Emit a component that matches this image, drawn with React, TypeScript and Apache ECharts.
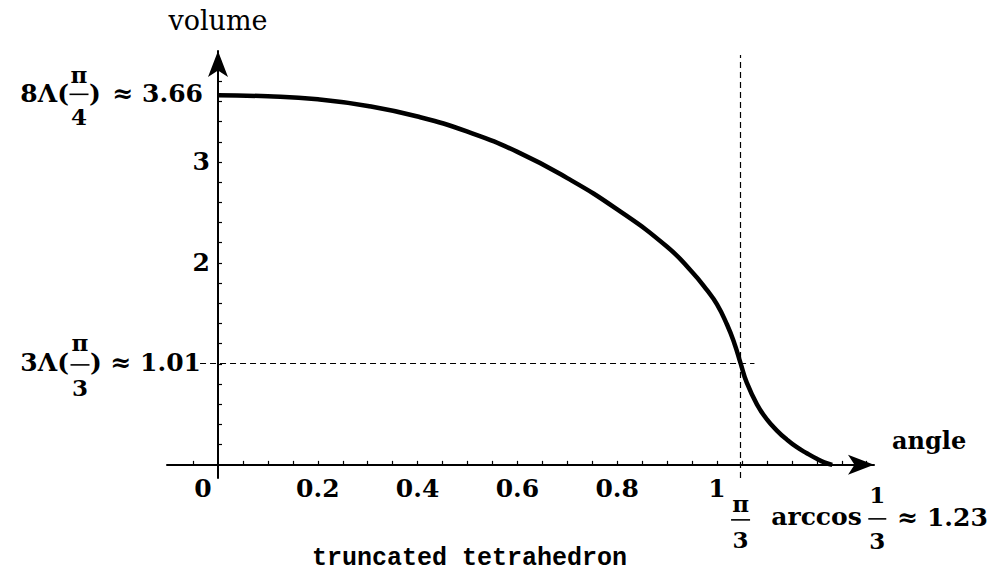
import React, { useEffect, useRef } from "react";
import * as echarts from "echarts";

// Curve: angle (rad) -> volume
const ANGLE = [0, 0.1, 0.2, 0.3, 0.4, 0.5, 0.6, 0.7, 0.8, 0.9, 0.95, 0.98, 1.0, 1.02, 1.035, 1.047, 1.06, 1.08, 1.1, 1.12, 1.14, 1.16, 1.18, 1.2, 1.215, 1.231];
const VOLUME = [3.66, 3.65, 3.62, 3.555, 3.45, 3.3, 3.1, 2.84, 2.53, 2.16, 1.91, 1.73, 1.59, 1.39, 1.2, 1.01, 0.81, 0.6, 0.45, 0.34, 0.25, 0.175, 0.115, 0.06, 0.025, 0];

const X_LABELS = [0, 0.2, 0.4, 0.6, 0.8, 1];
const X_TICKS = [-0.05, 0.05, 0.1, 0.15, 0.2, 0.25, 0.3, 0.35, 0.4, 0.45, 0.5, 0.55, 0.6, 0.65, 0.7, 0.75, 0.8, 0.85, 0.9, 0.95, 1, 1.05, 1.1, 1.15, 1.2, 1.25, 1.3];
const Y_LABELS = [2, 3];
const Y_TICKS = [0.2, 0.4, 0.6, 0.8, 1, 1.2, 1.4, 1.6, 1.8, 2, 2.2, 2.4, 2.6, 2.8, 3, 3.2, 3.4, 3.6, 3.8, 4];

const PI_3 = 1.0472; // π/3
const V_PI_3 = 1.01; // 3Λ(π/3)
const V_0 = 3.66; // 8Λ(π/4)
const ARCCOS = 1.231; // arccos(1/3)

const SERIF = "'DejaVu Serif', serif";
const MONO = "'Liberation Mono', monospace";

export default function App() {
  const ref = useRef<HTMLDivElement>(null);
  useEffect(() => {
    if (!ref.current) return;
    const chart = echarts.init(ref.current, undefined, { renderer: "svg" });
    const labelStyle = { fontFamily: SERIF, fontWeight: "bold" as const, fontSize: 25, color: "#000" };
    chart.setOption({
      animation: false,
      backgroundColor: "#fff",
      title: {
        text: "truncated tetrahedron",
        left: 307,
        top: 541,
        textStyle: { fontFamily: MONO, fontWeight: "bold", fontSize: 25, color: "#000" },
      },
      grid: { left: 167, right: 115, top: 51, bottom: 102, containLabel: false },
      xAxis: {
        type: "value",
        min: -0.1022,
        max: 1.3146,
        name: "angle",
        nameLocation: "end",
        nameGap: 18,
        nameTextStyle: { ...labelStyle, fontSize: 24, align: "left", verticalAlign: "bottom", padding: [0, 0, 12, 0] },
        axisLine: { onZero: true, symbol: ["none", "arrow"], symbolSize: [15, 26], lineStyle: { color: "#000", width: 2 } },
        axisTick: { show: true, inside: true, length: 4, customValues: X_TICKS, lineStyle: { color: "#000", width: 1.2 } },
        axisLabel: {
          customValues: X_LABELS,
          margin: -2,
          ...labelStyle,
          formatter: (v: number) => (v === 0 ? "{z|0}" : String(v)),
          rich: { z: { ...labelStyle, padding: [0, 30, 0, 0] } },
        },
        splitLine: { show: false },
      },
      yAxis: {
        type: "value",
        min: -0.13,
        max: 4.099,
        name: "volume",
        nameLocation: "end",
        nameGap: 17,
        nameTextStyle: { fontFamily: SERIF, fontSize: 27, color: "#000" },
        axisLine: { onZero: true, symbol: ["none", "arrow"], symbolSize: [15, 26], lineStyle: { color: "#000", width: 2 } },
        axisTick: { show: true, inside: true, length: 4, customValues: Y_TICKS, lineStyle: { color: "#000", width: 1.2 } },
        axisLabel: { customValues: Y_LABELS, margin: -43, ...labelStyle },
        splitLine: { show: false },
      },
      series: [
        {
          type: "line",
          data: ANGLE.map((a, i) => [a, VOLUME[i]]),
          smooth: 0.5,
          showSymbol: false,
          clip: false,
          lineStyle: { color: "#000", width: 4.5 },
          markLine: {
            silent: true,
            symbol: ["none", "none"],
            label: { show: false },
            lineStyle: { color: "#000", width: 1.2, type: [6, 4] },
            data: [
              [{ coord: [-0.036, V_PI_3] }, { coord: [1.075, V_PI_3] }],
              [{ coord: [PI_3, -0.13] }, { coord: [PI_3, 4.06] }],
            ],
          },
        },
      ],
    });

    const px = (x: number, y: number) => chart.convertToPixel({ gridIndex: 0 }, [x, y]) as number[];
    const txt = (text: string, x: number, y: number, align: string, size = 25, weight = "bold") => ({
      type: "text",
      x,
      y,
      silent: true,
      style: { text, fontFamily: SERIF, fontWeight: weight, fontSize: size, fill: "#000", align, verticalAlign: "middle" },
    });
    const frac = (num: string, den: string, cx: number, cy: number, w: number, up: number, down: number) => [
      txt(num, cx, cy - up, "center", 23),
      { type: "line", silent: true, shape: { x1: cx - w / 2, y1: cy, x2: cx + w / 2, y2: cy }, style: { stroke: "#000", lineWidth: 1.6 } },
      txt(den, cx, cy + down, "center", 23),
    ];

    const a = px(0, V_0);
    const b = px(0, V_PI_3);
    const c = px(PI_3, 0);
    const d = px(ARCCOS, 0);
    const ay = a[1] - 2;
    const graphic: any[] = [
      // 8Λ(π/4) ≈ 3.66
      txt("8Λ(", a[0] - 149, ay, "right"),
      ...frac("π", "4", a[0] - 139, ay + 1, 19, 20, 22),
      txt(")", a[0] - 129, ay, "left"),
      txt("≈ 3.66", a[0] - 15, ay, "right"),
      // 3Λ(π/3) ≈ 1.01
      txt("3Λ(", b[0] - 149, b[1], "right"),
      ...frac("π", "3", b[0] - 138, b[1] + 2, 19, 22, 23),
      txt(")", b[0] - 128, b[1], "left"),
      txt("≈ 1.01", b[0] - 17, b[1], "right"),
      // π/3 under the axis
      ...frac("π", "3", c[0], c[1] + 55, 19, 16, 20),
      // arccos 1/3 ≈ 1.23
      txt("arccos", d[0] - 61, d[1] + 52, "left"),
      ...frac("1", "3", d[0] + 45, d[1] + 54, 18, 24, 22),
      txt("≈ 1.23", d[0] + 65, d[1] + 53, "left"),
    ];
    chart.setOption({ graphic });

    return () => chart.dispose();
  }, []);
  return <div ref={ref} style={{ position: "fixed", left: 0, top: 0, width: 989, height: 580, background: "#fff" }} />;
}
